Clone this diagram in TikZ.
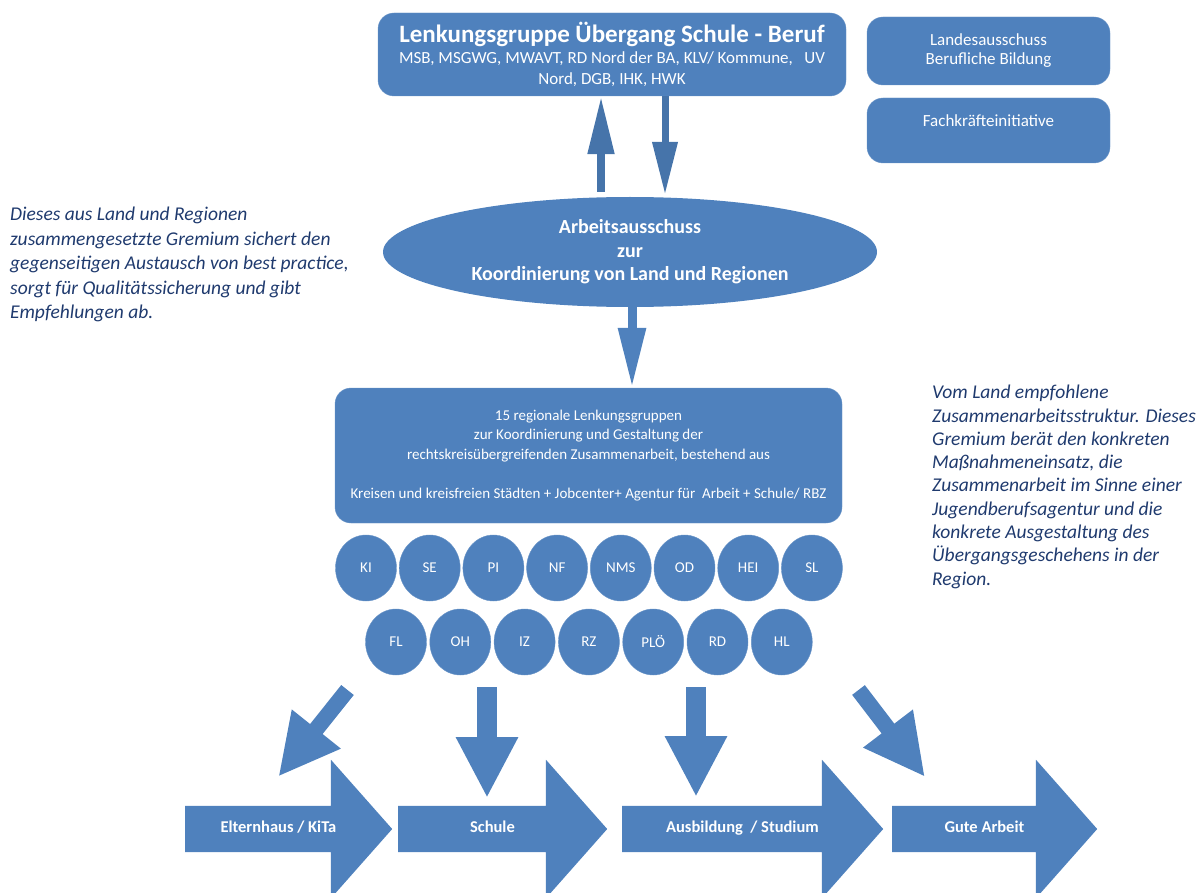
\documentclass[tikz,border=0pt]{standalone}
\usepackage{fontspec}
\setmainfont{Carlito}
\usepackage{tikz}
\usetikzlibrary{arrows.meta}
\usetikzlibrary{positioning}
\usetikzlibrary{shapes,calc}
\definecolor{boxblue}{HTML}{4F81BD}
\definecolor{darkblue}{HTML}{4674AA}
\definecolor{notecol}{HTML}{1F3A6E}
\begin{document}
\begin{tikzpicture}[x=1pt,y=-1pt,
  blk/.style={fill=boxblue, draw=boxblue!85!white, text=white, rounded corners=16pt, align=center, inner sep=0pt},
  kreis/.style={ellipse, fill=boxblue, draw=boxblue!85!white, text=white, minimum width=61pt, minimum height=66pt, inner sep=0pt, font=\fontsize{15}{17}\selectfont},
  bigar/.style={single arrow, fill=boxblue, text=white, single arrow head extend=46pt, single arrow tip angle=97, minimum width=138pt, inner xsep=0pt, inner ysep=16.5pt, text height=10pt, text depth=3pt, anchor=tail, font=\fontsize{16.5}{18}\selectfont\bfseries},
  smallar/.style={draw=boxblue, line width=20pt, -{Triangle[width=58pt,length=61pt]}},
  note/.style={text=notecol, align=left, inner sep=0pt, anchor=north west, font=\fontsize{19.5}{24.5}\selectfont\itshape}]
\useasboundingbox (0,0) rectangle (1201,893);
\node[blk, minimum width=468pt, minimum height=83pt, font=\fontsize{17}{21}\selectfont] (lg) at (612,54.5) {{\fontsize{25}{26}\selectfont\bfseries Lenkungsgruppe Übergang Schule - Beruf}\\MSB, MSGWG, MWAVT, RD Nord der BA, KLV/ Kommune,\ \ \ UV\\Nord, DGB, IHK, HWK};
\node[blk, minimum width=243pt, minimum height=68pt, font=\fontsize{17}{19}\selectfont] (la) at (988.5,51) {Landesausschuss\\Berufliche Bildung};
\node[blk, minimum width=243pt, minimum height=65pt, font=\fontsize{17}{19}\selectfont] (fk) at (988.5,130.5) {Fachkräfteinitiative\\\mbox{}};
\node[ellipse, fill=boxblue, text=white, align=center, inner sep=0pt, minimum width=494pt, minimum height=110pt, font=\fontsize{20}{23.5}\selectfont\bfseries] (aa) at (630,252) {Arbeitsausschuss\\zur\\Koordinierung von Land und Regionen};
\node[blk, minimum width=507pt, minimum height=135pt, font=\fontsize{15}{19.5}\selectfont] (rl) at (588.5,455.5) {15 regionale Lenkungsgruppen\\zur Koordinierung und Gestaltung der\\rechtskreisübergreifenden Zusammenarbeit, bestehend aus\\[19.5pt]Kreisen und kreisfreien Städten + Jobcenter+ Agentur für \ Arbeit + Schule/ RBZ};
\node[note] (nl) at (10,207) {Dieses aus Land und Regionen\\zusammengesetzte Gremium sichert den\\gegenseitigen Austausch von best practice,\\sorgt für Qualitätssicherung und gibt\\Empfehlungen ab.};
\node[note, font=\fontsize{19.5}{23.3}\selectfont\itshape] (nr) at (932,385) {Vom Land empfohlene\\Zusammenarbeitsstruktur. Dieses\\Gremium berät den konkreten\\Maßnahmeneinsatz, die\\Zusammenarbeit im Sinne einer\\Jugendberufsagentur und die\\konkrete Ausgestaltung des\\Übergangsgeschehens in der\\Region.};
\draw[draw=darkblue, line width=8pt, -{Triangle[width=25pt,length=58pt]}] ([xshift=-29pt,yshift=5pt]aa.north) to (lg.south -| 601,0);
\draw[draw=darkblue, line width=7pt, -{Triangle[width=24pt,length=53pt]}] ([xshift=53pt]lg.south) to ([xshift=35pt,yshift=2pt]aa.north);
\draw[draw=boxblue, line width=9pt, -{Triangle[width=26pt,length=60pt]}] ([xshift=2pt]aa.south) to ([xshift=2pt]aa.south |- rl.north);
\foreach \n [count=\i from 0] in {KI,SE,PI,NF,NMS,OD,HEI,SL}
  \node[kreis] (k\i) at (366+63.7*\i,568) {\n};
\foreach \n [count=\i from 0] in {FL,OH,IZ,RZ,PLÖ,RD,HL}
  \node[kreis] (r\i) at (396+64.3*\i,642) {\n};
\coordinate (s1) at (347.5,690);
\coordinate (t1) at (278.3,776.7);
\coordinate (s2) at (487,687);
\coordinate (t2) at (487,798);
\coordinate (s3) at (696,687);
\coordinate (t3) at (696,797);
\coordinate (s4) at (858.5,690);
\coordinate (t4) at (925,777);
\draw[smallar, line width=16pt] (s1) to (t1);
\draw[smallar] (s2) to (t2);
\draw[smallar] (s3) to (t3);
\draw[smallar, line width=16pt] (s4) to (t4);
\node[bigar, minimum height=207pt] (eh) at (185,829) {Elternhaus / KiTa};
\node[bigar, minimum height=209pt] (sc) at (398,829) {Schule};
\node[bigar, minimum height=261pt] (au) at (622,829) {Ausbildung \ / Studium};
\node[bigar, minimum height=205pt] (ga) at (892,829) {Gute Arbeit};
\end{tikzpicture}
\end{document}
